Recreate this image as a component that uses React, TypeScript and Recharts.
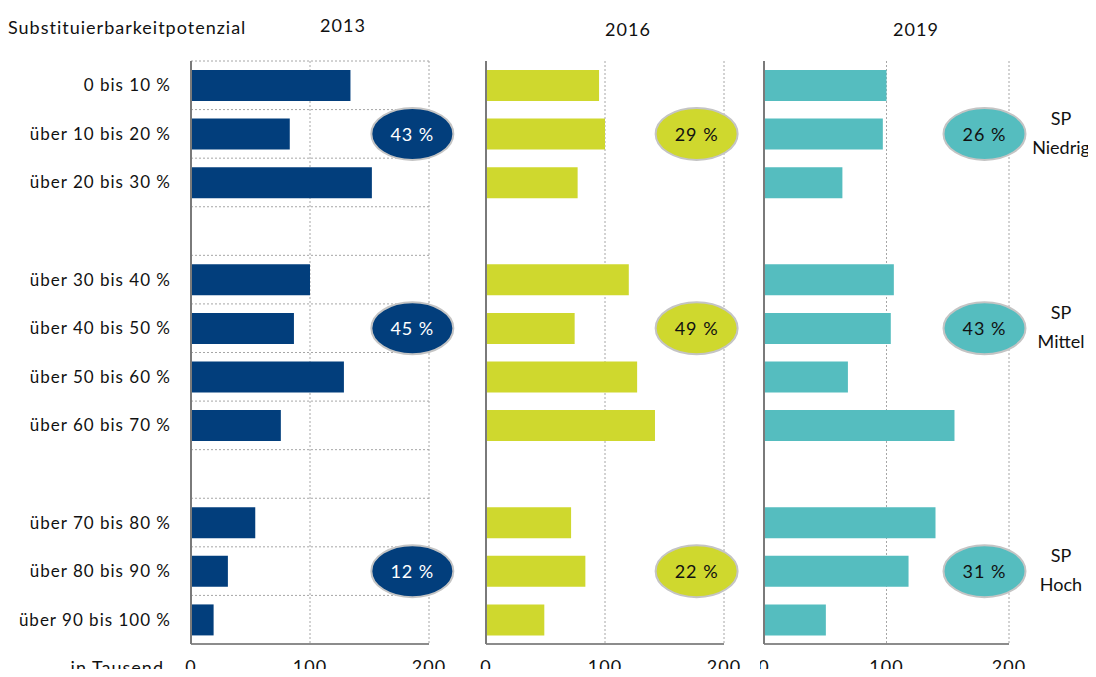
import React from 'react';
import { BarChart, Bar, XAxis, YAxis, CartesianGrid, ReferenceDot } from 'recharts';

// ---- Data ----
const categories = [
  '0 bis 10 %',
  'über 10 bis 20 %',
  'über 20 bis 30 %',
  '',
  'über 30 bis 40 %',
  'über 40 bis 50 %',
  'über 50 bis 60 %',
  'über 60 bis 70 %',
  '',
  'über 70 bis 80 %',
  'über 80 bis 90 %',
  'über 90 bis 100 %',
];
const values2013 = [134, 83, 152, null, 100, 86.5, 128.5, 75.5, null, 54, 31, 19];
const values2016 = [95, 100, 77, null, 120, 74.5, 127, 142, null, 71.5, 83.5, 49];
const values2019 = [100, 97, 64, null, 106, 103.5, 68.5, 155.5, null, 140, 118, 50.5];
const years = ['2013', '2016', '2019'];
const shares2013 = ['43 %', '45 %', '12 %'];
const shares2016 = ['29 %', '49 %', '22 %'];
const shares2019 = ['26 %', '43 %', '31 %'];
const groupRows = [1, 5, 10];
const groupLabels = [['SP', 'Niedrig'], ['SP', 'Mittel'], ['SP', 'Hoch']];
const xTicks = [0, 100, 200];

const FONT = 'Lato, "Open Sans", sans-serif';
const TEXT = '#111111';
const LS = 1;
const X_MAX = 200;
const ROW_COUNT = categories.length;
const labelTicks = categories.map((c, i) => (c ? i + 0.5 : null)).filter((v) => v !== null) as number[];
const boundaryValues = Array.from({ length: ROW_COUNT + 1 }, (_, i) => i);

const buildData = (values: (number | null)[]) =>
  categories.map((c, i) => ({ pos: i + 0.5, label: c, value: values[i] }));

const Bubble = (props: any) => {
  const { cx, cy, fill, textColor, text } = props;
  if (cx == null || cy == null) return null;
  return (
    <g>
      <ellipse cx={cx} cy={cy} rx={41} ry={26} fill={fill} stroke="#c4c4c4" strokeWidth={2} />
      <text
        x={cx}
        y={cy}
        textAnchor="middle"
        dominantBaseline="central"
        fill={textColor}
        fontSize={18}
        fontFamily={FONT}
        style={{ letterSpacing: LS }}
      >
        {text}
      </text>
    </g>
  );
};

// Group label placed right of the plot, anchored at the row's position on the value axis end
const GroupLabel = (props: any) => {
  const { cx, cy, lines } = props;
  if (cx == null || cy == null) return null;
  const x = cx + 52;
  return (
    <text x={x} y={cy} textAnchor="middle" fontSize={18} fill={TEXT} fontFamily={FONT}>
      <tspan x={x} dy={-9}>{lines[0]}</tspan>
      <tspan x={x} dy={29}>{lines[1]}</tspan>
    </text>
  );
};

type PanelProps = {
  values: (number | null)[];
  color: string;
  shares: string[];
  textColor: string;
  bubbleX: number;
  left: number;
  width: number;
  yWidth: number;
  marginRight: number;
  showLabels?: boolean;
  showGroups?: boolean;
};

const Panel = ({ values, color, shares, textColor, bubbleX, left, width, yWidth, marginRight, showLabels, showGroups }: PanelProps) => {
  const data = buildData(values);
  return (
    <div style={{ position: 'absolute', left, top: 0 }}>
      <BarChart
        width={width}
        height={677}
        data={data}
        layout="vertical"
        margin={{ top: 61, right: marginRight, bottom: 0, left: 0 }}
      >
        <CartesianGrid stroke="#a6a6a6" strokeDasharray="2 2" horizontalValues={boundaryValues} />
        <XAxis
          type="number"
          domain={[0, X_MAX]}
          ticks={xTicks}
          interval={0}
          tickLine={false}
          axisLine={{ stroke: '#8c8c8c', strokeWidth: 2 }}
          tick={{ fill: TEXT, fontSize: 18, fontFamily: FONT, style: { letterSpacing: LS } }}
          tickMargin={10}
          height={33}
        />
        <YAxis
          type="number"
          dataKey="pos"
          domain={[0, ROW_COUNT]}
          allowDataOverflow
          ticks={labelTicks}
          interval={0}
          tickFormatter={(v: number) => categories[Math.floor(v)]}
          tick={showLabels ? { fill: TEXT, fontSize: 17, fontFamily: FONT, style: { letterSpacing: LS } } : false}
          tickLine={false}
          tickMargin={14}
          axisLine={{ stroke: '#7a7a7a', strokeWidth: 2 }}
          width={yWidth}
        />
        <Bar dataKey="value" fill={color} barSize={31} isAnimationActive={false} />
        {groupRows.map((r, i) => (
          <ReferenceDot
            key={`b${r}`}
            x={bubbleX}
            y={r + 0.5}
            ifOverflow="visible"
            shape={(p: any) => <Bubble {...p} fill={color} textColor={textColor} text={shares[i]} />}
          />
        ))}
        {showGroups &&
          groupRows.map((r, i) => (
            <ReferenceDot
              key={`g${r}`}
              x={X_MAX}
              y={r + 0.5}
              ifOverflow="visible"
              shape={(p: any) => <GroupLabel {...p} lines={groupLabels[i]} />}
            />
          ))}
      </BarChart>
    </div>
  );
};

export default function App() {
  const titleStyle: React.CSSProperties = { position: 'absolute', fontSize: 18, lineHeight: '22px', letterSpacing: LS };
  return (
    <div
      style={{
        position: 'relative',
        width: 1096,
        height: 677,
        margin: -8,
        background: '#ffffff',
        fontFamily: FONT,
        color: TEXT,
        overflow: 'hidden',
      }}
    >
      <div style={{ ...titleStyle, left: 8, top: 16 }}>Substituierbarkeitpotenzial</div>
      <div style={{ ...titleStyle, left: 303, width: 80, textAlign: 'center', top: 14 }}>{years[0]}</div>
      <div style={{ ...titleStyle, left: 588, width: 80, textAlign: 'center', top: 18 }}>{years[1]}</div>
      <div style={{ ...titleStyle, left: 876, width: 80, textAlign: 'center', top: 18 }}>{years[2]}</div>
      <div style={{ ...titleStyle, left: 40, width: 124, textAlign: 'right', top: 656 }}>in Tausend</div>
      <Panel values={values2013} color="#023e7c" shares={shares2013} textColor="#ffffff" bubbleX={186} left={0} width={460} yWidth={191} marginRight={31} showLabels />
      <Panel values={values2016} color="#cfd82e" shares={shares2016} textColor="#111111" bubbleX={177} left={460} width={300} yWidth={26} marginRight={36} />
      <Panel values={values2019} color="#55bdbf" shares={shares2019} textColor="#111111" bubbleX={180} left={760} width={336} yWidth={4} marginRight={87} showGroups />
    </div>
  );
}
